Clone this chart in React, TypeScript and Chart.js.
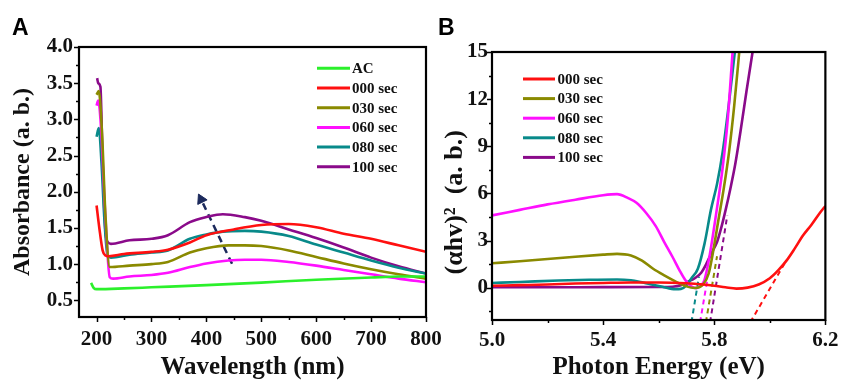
import React, { useEffect, useRef } from 'react';
import { Chart, registerables } from 'chart.js';
Chart.register(...registerables);

// ---------- Panel A data: Absorbance vs wavelength ----------
const wlAC = [190, 195, 200, 250, 300, 400, 500, 600, 700, 750, 800];
const absAC = [0.74, 0.67, 0.655, 0.665, 0.68, 0.71, 0.745, 0.785, 0.815, 0.83, 0.83];

const wl000 = [200, 205, 211, 216, 222, 250, 300, 330, 370, 400, 450, 500, 550, 600, 650, 700, 750, 800];
const abs000 = [1.81, 1.5, 1.19, 1.12, 1.11, 1.14, 1.17, 1.2, 1.3, 1.4, 1.48, 1.54, 1.555, 1.51, 1.42, 1.35, 1.26, 1.17];

const wl030 = [200, 204, 210, 216, 224, 260, 300, 330, 370, 400, 440, 470, 500, 550, 600, 650, 700, 750, 800];
const abs030 = [3.34, 3.39, 2.8, 1.7, 0.96, 0.98, 1.0, 1.03, 1.16, 1.22, 1.26, 1.26, 1.25, 1.19, 1.1, 1.01, 0.93, 0.86, 0.8];

const wl060 = [200, 203, 208, 215, 224, 230, 260, 300, 330, 370, 400, 440, 470, 500, 550, 600, 650, 700, 750, 800];
const abs060 = [3.19, 3.26, 2.9, 1.8, 0.82, 0.8, 0.83, 0.85, 0.88, 0.96, 1.01, 1.05, 1.06, 1.06, 1.03, 0.98, 0.92, 0.86, 0.8, 0.75];

const wl080 = [200, 204, 209, 214, 220, 226, 260, 300, 330, 370, 400, 430, 470, 500, 550, 600, 650, 700, 750, 800];
const abs080 = [2.76, 2.88, 2.4, 1.65, 1.12, 1.09, 1.13, 1.16, 1.19, 1.35, 1.41, 1.45, 1.46, 1.45, 1.39, 1.27, 1.16, 1.05, 0.95, 0.87];

const wl100 = [201, 203, 207, 211, 216, 220, 226, 260, 300, 330, 370, 400, 430, 470, 500, 550, 600, 650, 700, 750, 800];
const abs100 = [3.57, 3.5, 3.45, 2.4, 1.47, 1.31, 1.28, 1.33, 1.35, 1.4, 1.58, 1.65, 1.69, 1.65, 1.6, 1.48, 1.36, 1.23, 1.09, 0.97, 0.87];

const arrowWl = [446.7, 390.4];
const arrowAbs = [1.005, 1.894];

const wlMajor = [200, 300, 400, 500, 600, 700, 800];
const wlMinor = [250, 350, 450, 550, 650, 750];
const absMajor = [0.5, 1.0, 1.5, 2.0, 2.5, 3.0, 3.5, 4.0];
const absMinor = [0.75, 1.25, 1.75, 2.25, 2.75, 3.25, 3.75];

// ---------- Panel B data: (αhv)^2 vs photon energy ----------
const e000 = [5.0, 5.1, 5.2, 5.3, 5.4, 5.5, 5.6, 5.7, 5.76, 5.8, 5.84, 5.88, 5.92, 5.96, 6.0, 6.03, 6.06, 6.09, 6.12, 6.15, 6.18, 6.2];
const t000 = [0.12, 0.16, 0.2, 0.26, 0.3, 0.33, 0.33, 0.28, 0.2, 0.12, 0.02, -0.06, 0.0, 0.2, 0.6, 1.1, 1.72, 2.5, 3.33, 4.0, 4.75, 5.2];

const e030 = [5.0, 5.1, 5.2, 5.3, 5.4, 5.45, 5.5, 5.54, 5.58, 5.62, 5.66, 5.7, 5.73, 5.76, 5.78, 5.795, 5.815, 5.835, 5.853, 5.872, 5.89];
const t030 = [1.55, 1.68, 1.82, 1.97, 2.1, 2.15, 2.05, 1.72, 1.2, 0.78, 0.4, 0.08, -0.02, 0.2, 0.9, 2.2, 4.3, 6.4, 8.6, 11.6, 15];

const e060 = [5.0, 5.1, 5.2, 5.3, 5.4, 5.45, 5.49, 5.52, 5.555, 5.59, 5.62, 5.65, 5.675, 5.695, 5.715, 5.735, 5.75, 5.765, 5.782, 5.806, 5.83, 5.848, 5.866];
const t060 = [4.6, 4.95, 5.3, 5.6, 5.88, 5.95, 5.7, 5.4, 4.75, 3.9, 2.9, 1.95, 1.1, 0.5, 0.1, -0.03, 0.1, 0.5, 1.9, 4.6, 7.6, 10.6, 15];

const e080 = [5.0, 5.1, 5.24, 5.35, 5.45, 5.5, 5.53, 5.57, 5.613, 5.66, 5.68, 5.7, 5.718, 5.741, 5.765, 5.788, 5.81, 5.83, 5.852, 5.874];
const t080 = [0.3, 0.36, 0.45, 0.5, 0.52, 0.47, 0.38, 0.22, 0.06, -0.1, -0.08, 0.15, 0.6, 1.2, 2.8, 4.95, 6.6, 8.6, 11.6, 15];

const e100 = [5.0, 5.2, 5.4, 5.6, 5.65, 5.68, 5.706, 5.73, 5.753, 5.771, 5.79, 5.81, 5.825, 5.841, 5.858, 5.876, 5.895, 5.916, 5.938];
const t100 = [0.02, 0.02, 0.03, 0.04, 0.06, 0.15, 0.38, 0.6, 0.95, 1.5, 2.2, 2.9, 3.8, 4.95, 6.3, 7.9, 10.0, 12.5, 15];

// tangent (extrapolation) lines: [E start, E end], [value start, value end]
const tanE000 = [5.93, 6.06];
const tanV000 = [-2.2, 1.75];
const tanE030 = [5.77, 5.81];
const tanV030 = [-2.2, 2.0];
const tanE060 = [5.749, 5.775];
const tanV060 = [-2.2, 0.5];
const tanE080 = [5.718, 5.745];
const tanV080 = [-2.2, 0.7];
const tanE100 = [5.785, 5.847];
const tanV100 = [-2.2, 4.6];

const eMajor = [5.0, 5.4, 5.8, 6.2];
const eMinor = [5.2, 5.6, 6.0];
const tMajor = [0, 3, 6, 9, 12, 15];
const tMinor = [-1.5, 1.5, 4.5, 7.5, 10.5, 13.5];

const C_AC = '#2bf02b';
const C000 = '#ff1010';
const C030 = '#8a8a00';
const C060 = '#ff10ff';
const C080 = '#088a8a';
const C100 = '#8a0a8a';
const C_ARROW = '#1c2a5c';

const SERIF = "'Liberation Serif', 'Times New Roman', serif";

const pts = (xs: number[], ys: number[]) => xs.map((x, i) => ({ x, y: ys[i] }));

const line = (label: string, xs: number[], ys: number[], color: string) => ({
  label,
  data: pts(xs, ys),
  borderColor: color,
  backgroundColor: color,
  borderWidth: 2.6,
  pointRadius: 0,
  cubicInterpolationMode: 'monotone' as const,
  fill: false,
});

const dashed = (xs: number[], ys: number[], color: string) => ({
  label: '_tangent',
  data: pts(xs, ys),
  borderColor: color,
  borderWidth: 2,
  borderDash: [5, 4],
  pointRadius: 0,
  fill: false,
});

const decorPlugin = {
  id: 'decor',
  afterDraw(chart: any, _args: any, opts: any) {
    const { ctx, chartArea: ca, scales } = chart;
    const xs = scales.x;
    const ys = scales.y;
    ctx.save();
    ctx.strokeStyle = '#000';
    ctx.lineWidth = 1.5;
    ctx.beginPath();
    const drawX = (vals: number[], len: number) => {
      for (const v of vals) {
        const p = Math.round(xs.getPixelForValue(v)) + 0.5;
        ctx.moveTo(p, ca.bottom);
        ctx.lineTo(p, ca.bottom + len);
      }
    };
    const drawY = (vals: number[], len: number) => {
      for (const v of vals) {
        const p = Math.round(ys.getPixelForValue(v)) + 0.5;
        ctx.moveTo(ca.left, p);
        ctx.lineTo(ca.left - len, p);
      }
    };
    drawX(opts.xMajor, 5);
    drawX(opts.xMinor, 3);
    drawY(opts.yMajor, 5);
    drawY(opts.yMinor, 3);
    ctx.stroke();
    // frame
    ctx.lineWidth = 2.2;
    ctx.strokeRect(ca.left, ca.top, ca.right - ca.left, ca.bottom - ca.top);
    // legend
    const lg = opts.legend;
    const items = chart.data.datasets.filter((d: any) => d.label && !d.label.startsWith('_'));
    ctx.font = `bold 15px ${SERIF}`;
    ctx.textBaseline = 'middle';
    ctx.textAlign = 'left';
    items.forEach((d: any, i: number) => {
      const y = lg.y0 + i * lg.dy;
      ctx.strokeStyle = d.borderColor;
      ctx.lineWidth = 3;
      ctx.beginPath();
      ctx.moveTo(lg.x1, y);
      ctx.lineTo(lg.x2, y);
      ctx.stroke();
      ctx.fillStyle = '#111';
      ctx.fillText(d.label, lg.tx, y + 1);
    });
    // panel letter
    ctx.font = "bold 23px 'Liberation Sans', Arial, sans-serif";
    ctx.textBaseline = 'alphabetic';
    ctx.fillStyle = '#000';
    ctx.fillText(opts.letter.text, opts.letter.x, opts.letter.y);
    ctx.restore();
  },
};

const tickFont = { family: SERIF, size: 21, weight: 'bold' as const };
const titleFont = { family: SERIF, size: 25, weight: 'bold' as const, lineHeight: 1 };

function configA(): any {
  return {
    type: 'line',
    data: {
      datasets: [
        line('AC', wlAC, absAC, C_AC),
        line('000 sec', wl000, abs000, C000),
        line('030 sec', wl030, abs030, C030),
        line('060 sec', wl060, abs060, C060),
        line('080 sec', wl080, abs080, C080),
        line('100 sec', wl100, abs100, C100),
        {
          label: '_arrow',
          data: pts(arrowWl, arrowAbs),
          borderColor: C_ARROW,
          backgroundColor: C_ARROW,
          borderWidth: 2.5,
          borderDash: [7, 5],
          pointRadius: [0, 6],
          pointStyle: 'triangle',
          rotation: -26,
          pointBorderWidth: 1,
          fill: false,
        },
      ],
    },
    options: {
      responsive: false,
      devicePixelRatio: 1,
      animation: false,
      layout: { padding: { top: 47, right: 44, left: 0, bottom: 0 } },
      plugins: {
        legend: { display: false },
        tooltip: { enabled: false },
        decor: {
          xMajor: wlMajor, xMinor: wlMinor, yMajor: absMajor, yMinor: absMinor,
          legend: { x1: 317, x2: 350, tx: 352, y0: 68.3, dy: 19.7 },
          letter: { text: 'A', x: 12, y: 35 },
        },
      },
      scales: {
        x: {
          type: 'linear',
          min: 168,
          max: 800,
          afterBuildTicks: (s: any) => { s.ticks = wlMajor.map((v) => ({ value: v })); },
          afterFit: (s: any) => { s.height = 65; },
          grid: { display: false, drawTicks: false, tickLength: 0 },
          border: { display: false },
          ticks: { font: tickFont, color: '#111', padding: 10, maxRotation: 0, autoSkip: false, callback: (v: any) => String(v) },
          title: { display: true, text: 'Wavelength (nm)', font: titleFont, color: '#111', padding: { top: 0, bottom: 1.5 } },
        },
        y: {
          type: 'linear',
          min: 0.27,
          max: 4.0,
          afterBuildTicks: (s: any) => { s.ticks = absMajor.map((v) => ({ value: v })); },
          afterFit: (s: any) => { s.width = 79; },
          grid: { display: false, drawTicks: false, tickLength: 0 },
          border: { display: false },
          ticks: { font: tickFont, color: '#111', padding: 6, autoSkip: false, callback: (v: any) => Number(v).toFixed(1) },
          title: { display: true, text: 'Absorbance (a. b.)', font: { ...titleFont, size: 24 }, color: '#111', padding: { top: 11, bottom: 0 } },
        },
      },
    },
    plugins: [decorPlugin],
  };
}

function configB(): any {
  return {
    type: 'line',
    data: {
      datasets: [
        line('000 sec', e000, t000, C000),
        line('030 sec', e030, t030, C030),
        line('060 sec', e060, t060, C060),
        line('080 sec', e080, t080, C080),
        line('100 sec', e100, t100, C100),
        dashed(tanE000, tanV000, C000),
        dashed(tanE030, tanV030, C030),
        dashed(tanE060, tanV060, C060),
        dashed(tanE080, tanV080, C080),
        dashed(tanE100, tanV100, C100),
      ],
    },
    options: {
      responsive: false,
      devicePixelRatio: 1,
      animation: false,
      layout: { padding: { top: 52, right: 12, left: 0, bottom: 0 } },
      plugins: {
        legend: { display: false },
        tooltip: { enabled: false },
        decor: {
          xMajor: eMajor, xMinor: eMinor, yMajor: tMajor, yMinor: tMinor,
          legend: { x1: 103, x2: 135, tx: 137.5, y0: 79, dy: 19.6 },
          letter: { text: 'B', x: 18, y: 35 },
        },
      },
      scales: {
        x: {
          type: 'linear',
          min: 5.0,
          max: 6.2,
          afterBuildTicks: (s: any) => { s.ticks = eMajor.map((v) => ({ value: v })); },
          afterFit: (s: any) => { s.height = 62; },
          grid: { display: false, drawTicks: false, tickLength: 0 },
          border: { display: false },
          ticks: { font: tickFont, color: '#111', padding: 7.5, maxRotation: 0, autoSkip: false, callback: (v: any) => Number(v).toFixed(1) },
          title: { display: true, text: 'Photon Energy (eV)', font: titleFont, color: '#111', padding: { top: 0, bottom: 1.5 } },
        },
        y: {
          type: 'linear',
          min: -2.06,
          max: 15,
          afterBuildTicks: (s: any) => { s.ticks = tMajor.map((v) => ({ value: v })); },
          afterFit: (s: any) => { s.width = 72; },
          grid: { display: false, drawTicks: false, tickLength: 0 },
          border: { display: false },
          ticks: { font: tickFont, color: '#111', padding: 4, autoSkip: false, callback: (v: any) => String(v) },
          title: { display: true, text: '(\u03B1hv)\u00B2  (a. b.)     ', font: { ...titleFont, size: 26 }, color: '#111', padding: { top: 22, bottom: 0 } },
        },
      },
    },
    plugins: [decorPlugin],
  };
}

export default function App() {
  const refA = useRef<HTMLCanvasElement>(null);
  const refB = useRef<HTMLCanvasElement>(null);
  useEffect(() => {
    const a = new Chart(refA.current as HTMLCanvasElement, configA());
    const b = new Chart(refB.current as HTMLCanvasElement, configB());
    return () => {
      a.destroy();
      b.destroy();
    };
  }, []);
  return (
    <div style={{ position: 'fixed', left: 0, top: 0, width: 846, height: 382, overflow: 'hidden', background: '#fff' }}>
      <canvas ref={refA} width={470} height={382} style={{ position: 'absolute', left: 0, top: 0, width: 470, height: 382 }} />
      <canvas ref={refB} width={426} height={382} style={{ position: 'absolute', left: 420, top: 0, width: 426, height: 382 }} />
    </div>
  );
}
